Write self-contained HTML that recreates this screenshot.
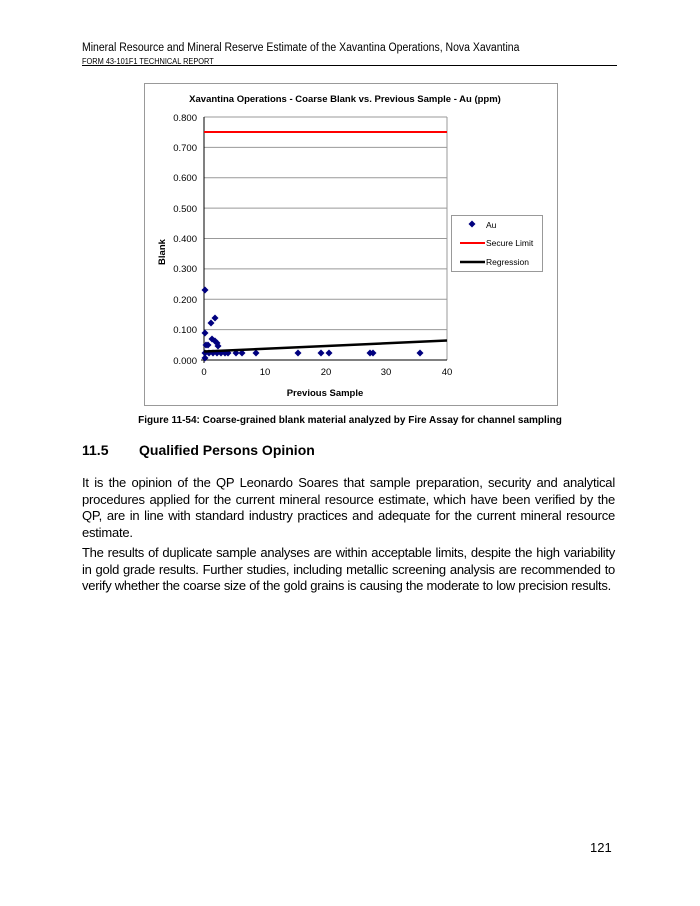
<!DOCTYPE html>
<html><head><meta charset="utf-8"><style>
body{margin:0;width:700px;height:906px;background:#fff;position:relative;font-family:"Liberation Sans",Arial,sans-serif;color:#000;overflow:hidden}
.a{position:absolute;white-space:nowrap}
.p{position:absolute;left:82px;width:533px;font-size:13px;line-height:16.5px;text-align:justify;letter-spacing:-0.22px}
</style></head><body>
<div class="a" style="left:82px;top:42px;font-size:11.5px;transform:scaleX(0.91);transform-origin:0 0">Mineral Resource and Mineral Reserve Estimate of the Xavantina Operations, Nova Xavantina</div>
<div class="a" style="left:82px;top:56px;font-size:8.5px;transform:scaleX(0.87);transform-origin:0 0">FORM 43-101F1 TECHNICAL REPORT</div>
<div class="a" style="left:82px;top:65px;width:535px;height:1px;background:#000"></div>
<svg class="a" style="left:0;top:0" width="700" height="420" font-family="Liberation Sans,Arial,sans-serif">
<defs><path id="d" d="M0,-3.5L3.5,0L0,3.5L-3.5,0Z" fill="#00007f"/></defs>
<rect x="144.5" y="83.5" width="413" height="322" fill="#fff" stroke="#999"/>
<text x="345" y="102" font-size="9.5" font-weight="bold" text-anchor="middle">Xavantina Operations - Coarse Blank vs. Previous Sample - Au (ppm)</text>
<g stroke="#999" stroke-width="1">
<line x1="204" y1="117" x2="447" y2="117"/><line x1="204" y1="147.4" x2="447" y2="147.4"/><line x1="204" y1="177.8" x2="447" y2="177.8"/><line x1="204" y1="208.1" x2="447" y2="208.1"/><line x1="204" y1="238.5" x2="447" y2="238.5"/><line x1="204" y1="268.9" x2="447" y2="268.9"/><line x1="204" y1="299.3" x2="447" y2="299.3"/><line x1="204" y1="329.6" x2="447" y2="329.6"/>
<line x1="447" y1="117" x2="447" y2="360"/>
</g>
<line x1="204" y1="117" x2="204" y2="363" stroke="#000"/><line x1="201" y1="360" x2="447" y2="360" stroke="#000"/>
<g font-size="9.5" text-anchor="end">
<text x="197" y="121">0.800</text><text x="197" y="151">0.700</text><text x="197" y="181">0.600</text><text x="197" y="212">0.500</text><text x="197" y="242">0.400</text><text x="197" y="272">0.300</text><text x="197" y="303">0.200</text><text x="197" y="333">0.100</text><text x="197" y="364">0.000</text>
</g>
<g font-size="9.5" text-anchor="middle"><text x="204" y="375">0</text><text x="265" y="375">10</text><text x="326" y="375">20</text><text x="386" y="375">30</text><text x="447" y="375">40</text></g>
<text x="325" y="396" font-size="9.5" font-weight="bold" text-anchor="middle">Previous Sample</text>
<text transform="translate(165,252) rotate(-90)" font-size="9.5" font-weight="bold" text-anchor="middle">Blank</text>
<line x1="204" y1="132" x2="447" y2="132" stroke="#f00" stroke-width="2"/>
<use href="#d" x="205" y="290"/><use href="#d" x="205" y="333"/><use href="#d" x="206" y="345"/><use href="#d" x="208" y="345"/>
<use href="#d" x="211" y="323"/><use href="#d" x="215" y="318"/><use href="#d" x="212" y="339"/><use href="#d" x="215" y="341"/>
<use href="#d" x="217" y="343"/><use href="#d" x="218" y="346"/><use href="#d" x="205" y="358"/>
<use href="#d" x="205" y="353"/><use href="#d" x="209" y="353"/><use href="#d" x="213" y="353"/><use href="#d" x="217" y="353"/>
<use href="#d" x="221" y="353"/><use href="#d" x="225" y="353"/><use href="#d" x="228" y="353"/>
<use href="#d" x="236" y="353"/><use href="#d" x="242" y="353"/><use href="#d" x="256" y="353"/><use href="#d" x="298" y="353"/>
<use href="#d" x="321" y="353"/><use href="#d" x="329" y="353"/><use href="#d" x="370" y="353"/><use href="#d" x="373" y="353"/><use href="#d" x="420" y="353"/>
<line x1="204" y1="351.5" x2="447" y2="340.5" stroke="#000" stroke-width="2.5"/>
<rect x="451.5" y="215.5" width="91" height="56" fill="#fff" stroke="#999"/>
<use href="#d" x="472" y="224"/>
<text x="486" y="228" font-size="8.5">Au</text>
<line x1="460" y1="243" x2="485" y2="243" stroke="#f00" stroke-width="2"/>
<text x="486" y="246" font-size="8.5">Secure Limit</text>
<line x1="460" y1="262" x2="485" y2="262" stroke="#000" stroke-width="2.5"/>
<text x="486" y="265" font-size="8.5">Regression</text>
</svg>
<div class="a" style="left:0;width:700px;text-align:center;top:415px;font-size:10px;font-weight:bold">Figure 11-54: Coarse-grained blank material analyzed by Fire Assay for channel sampling</div>
<div class="a" style="left:82px;top:442px;font-size:14px;font-weight:bold">11.5</div>
<div class="a" style="left:139px;top:442px;font-size:14px;font-weight:bold">Qualified Persons Opinion</div>
<div class="p" style="top:475px">It is the opinion of the QP Leonardo Soares that sample preparation, security and analytical procedures applied for the current mineral resource estimate, which have been verified by the QP, are in line with standard industry practices and adequate for the current mineral resource estimate.</div>
<div class="p" style="top:545px;letter-spacing:-0.27px">The results of duplicate sample analyses are within acceptable limits, despite the high variability in gold grade results. Further studies, including metallic screening analysis are recommended to verify whether the coarse size of the gold grains is causing the moderate to low precision results.</div>
<div class="a" style="left:590px;top:840px;font-size:13px">121</div>
</body></html>
